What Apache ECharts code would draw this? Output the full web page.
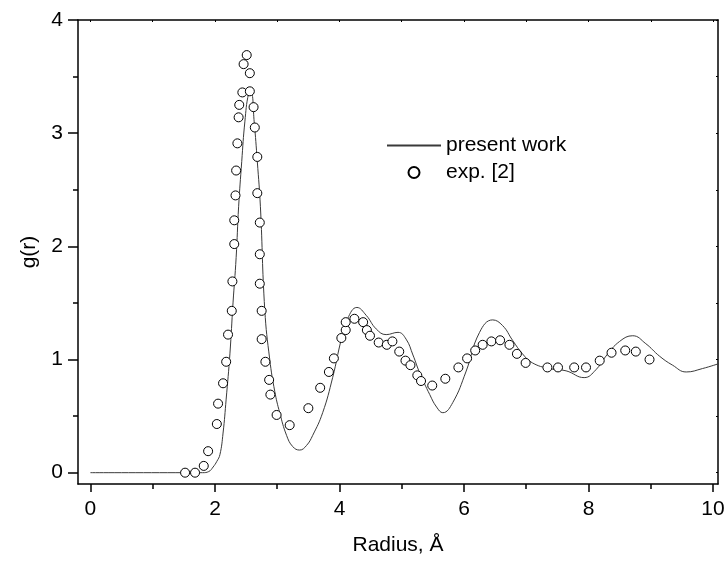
<!DOCTYPE html>
<html>
<head>
<meta charset="utf-8">
<script src="https://cdn.jsdelivr.net/npm/echarts@6/dist/echarts.min.js"></script>
<style>
html,body{margin:0;padding:0;background:#fff;}
#main{width:727px;height:561px;}
</style>
</head>
<body>
<div id="main"></div>
<script>
// calculated g(r) curve
var calcR = [0, 1.5, 1.8, 1.9, 1.97, 2.03, 2.08, 2.13, 2.18, 2.24, 2.29, 2.34, 2.38, 2.43, 2.48, 2.54, 2.58, 2.63, 2.68, 2.73, 2.8, 2.88, 2.96, 3.04, 3.15, 3.25, 3.36, 3.47, 3.57, 3.73, 3.89, 4.03, 4.13, 4.28, 4.43, 4.59, 4.75, 4.94, 5.07, 5.18, 5.29, 5.45, 5.56, 5.66, 5.82, 6.03, 6.25, 6.46, 6.62, 6.78, 6.94, 7.1, 7.37, 7.64, 7.93, 8.12, 8.28, 8.5, 8.71, 8.92, 9.14, 9.35, 9.57, 9.83, 10.1];
var calcG = [0, 0, 0, 0.01, 0.05, 0.1, 0.16, 0.35, 0.65, 1.05, 1.5, 1.9, 2.35, 2.75, 3.1, 3.35, 3.36, 3.1, 2.75, 2.35, 1.44, 1.0, 0.72, 0.53, 0.33, 0.23, 0.2, 0.24, 0.33, 0.53, 0.84, 1.18, 1.36, 1.46, 1.39, 1.27, 1.22, 1.24, 1.18, 1.04, 0.88, 0.69, 0.58, 0.53, 0.62, 0.89, 1.24, 1.35, 1.3, 1.17, 1.05, 0.97, 0.92, 0.9, 0.84, 0.91, 1.03, 1.16, 1.21, 1.14, 1.03, 0.95, 0.89, 0.92, 0.965];

// experimental points
var expR = [1.52, 1.68, 1.82, 1.89, 2.03, 2.05, 2.13, 2.18, 2.21, 2.27, 2.28, 2.31, 2.31, 2.33, 2.34, 2.36, 2.38, 2.39, 2.44, 2.46, 2.51, 2.56, 2.56, 2.62, 2.64, 2.68, 2.68, 2.72, 2.72, 2.72, 2.75, 2.75, 2.81, 2.87, 2.89, 2.99, 3.2, 3.5, 3.69, 3.83, 3.91, 4.03, 4.1, 4.1, 4.24, 4.38, 4.44, 4.49, 4.63, 4.76, 4.85, 4.96, 5.06, 5.14, 5.25, 5.31, 5.49, 5.7, 5.91, 6.05, 6.18, 6.3, 6.44, 6.58, 6.73, 6.85, 6.99, 7.34, 7.51, 7.77, 7.96, 8.18, 8.37, 8.59, 8.76, 8.98];
var expG = [0, 0, 0.06, 0.19, 0.43, 0.61, 0.79, 0.98, 1.22, 1.43, 1.69, 2.02, 2.23, 2.45, 2.67, 2.91, 3.14, 3.25, 3.36, 3.61, 3.69, 3.53, 3.37, 3.23, 3.05, 2.79, 2.47, 2.21, 1.93, 1.67, 1.43, 1.18, 0.98, 0.82, 0.69, 0.51, 0.42, 0.57, 0.75, 0.89, 1.01, 1.19, 1.26, 1.33, 1.36, 1.33, 1.26, 1.21, 1.15, 1.13, 1.16, 1.07, 0.99, 0.95, 0.86, 0.81, 0.77, 0.83, 0.93, 1.01, 1.08, 1.13, 1.16, 1.17, 1.13, 1.05, 0.97, 0.93, 0.93, 0.93, 0.93, 0.99, 1.06, 1.08, 1.07, 1.0];

// ticks
var xMajor = [0, 2, 4, 6, 8, 10];
var xMinor = [1, 3, 5, 7, 9];
var xTop = [0, 1, 2, 3, 4, 5, 6, 7, 8, 9, 10];
var yMajor = [0, 1, 2, 3, 4];
var yMinor = [0.5, 1.5, 2.5, 3.5];
var yRight = [0, 0.5, 1, 1.5, 2, 2.5, 3, 3.5, 4];

var xMin = -0.2, xMax = 10.08, yMin = -0.1, yMax = 4;
var font = 'Liberation Sans, Arial, sans-serif';

function zip(a, b) {
    var out = [];
    for (var i = 0; i < a.length; i++) out.push([a[i], b[i]]);
    return out;
}

var chart = echarts.init(document.getElementById('main'));
var option = {
    backgroundColor: '#fff',
    animation: false,
    textStyle: {fontFamily: font},
    grid: {left: 78, right: 9, top: 20, bottom: 77, outerBoundsMode: 'none'},
    legend: {
        orient: 'vertical',
        left: 386,
        top: 135,
        padding: 0,
        itemWidth: 54,
        itemHeight: 11,
        itemGap: 6,
        textStyle: {fontSize: 21, color: '#000', lineHeight: 21, fontFamily: font},
        data: [
            {name: 'present work', itemStyle: {color: 'rgba(0,0,0,0)', borderWidth: 0}},
            {name: 'exp. [2]'}
        ]
    },
    xAxis: [
        {
            type: 'value', position: 'bottom', min: xMin, max: xMax,
            name: 'Radius, Å', nameLocation: 'middle', nameGap: 51,
            nameTextStyle: {fontSize: 21, color: '#000', fontFamily: font},
            axisLine: {show: true, onZero: false, lineStyle: {color: '#000', width: 1.5}},
            axisTick: {show: true, length: 8, customValues: xMajor, lineStyle: {color: '#000', width: 1.5}},
            axisLabel: {show: true, customValues: xMajor, fontSize: 21, color: '#000', margin: 15, fontFamily: font},
            splitLine: {show: false}
        },
        {
            type: 'value', position: 'bottom', min: xMin, max: xMax,
            axisLine: {show: false, onZero: false},
            axisTick: {show: true, length: 5, customValues: xMinor, lineStyle: {color: '#000', width: 1.5}},
            axisLabel: {show: false},
            splitLine: {show: false}
        },
        {
            type: 'value', position: 'top', min: xMin, max: xMax,
            axisLine: {show: true, onZero: false, lineStyle: {color: '#000', width: 1.5}},
            axisTick: {show: true, inside: true, length: 2, customValues: xTop, lineStyle: {color: '#000', width: 1}},
            axisLabel: {show: false},
            splitLine: {show: false}
        }
    ],
    yAxis: [
        {
            type: 'value', position: 'left', min: yMin, max: yMax,
            name: 'g(r)', nameLocation: 'middle', nameGap: 38, nameRotate: 90,
            nameTextStyle: {fontSize: 21, color: '#000', fontFamily: font},
            axisLine: {show: true, onZero: false, lineStyle: {color: '#000', width: 1.5}},
            axisTick: {show: true, length: 10, customValues: yMajor, lineStyle: {color: '#000', width: 1.5}},
            axisLabel: {show: true, customValues: yMajor, fontSize: 21, color: '#000', margin: 15, fontFamily: font},
            splitLine: {show: false}
        },
        {
            type: 'value', position: 'left', min: yMin, max: yMax,
            axisLine: {show: false, onZero: false},
            axisTick: {show: true, length: 5, customValues: yMinor, lineStyle: {color: '#000', width: 1.5}},
            axisLabel: {show: false},
            splitLine: {show: false}
        },
        {
            type: 'value', position: 'right', min: yMin, max: yMax,
            axisLine: {show: true, onZero: false, lineStyle: {color: '#000', width: 1.5}},
            axisTick: {show: true, inside: true, length: 2, customValues: yRight, lineStyle: {color: '#000', width: 1}},
            axisLabel: {show: false},
            splitLine: {show: false}
        }
    ],
    series: [
        {
            name: 'present work',
            type: 'line',
            xAxisIndex: 0, yAxisIndex: 0,
            data: zip(calcR, calcG),
            symbol: 'none',
            smooth: 0.45,
            lineStyle: {color: '#3a3a3a', width: 1},
            itemStyle: {color: '#3a3a3a'},
            clip: true,
            z: 2
        },
        {
            name: 'exp. [2]',
            type: 'scatter',
            xAxisIndex: 0, yAxisIndex: 0,
            data: zip(expR, expG),
            symbol: 'circle',
            symbolSize: 9,
            itemStyle: {color: '#fff', borderColor: '#000', borderWidth: 1, opacity: 1},
            z: 3
        }
    ]
};
chart.setOption(option);
</script>
</body>
</html>
